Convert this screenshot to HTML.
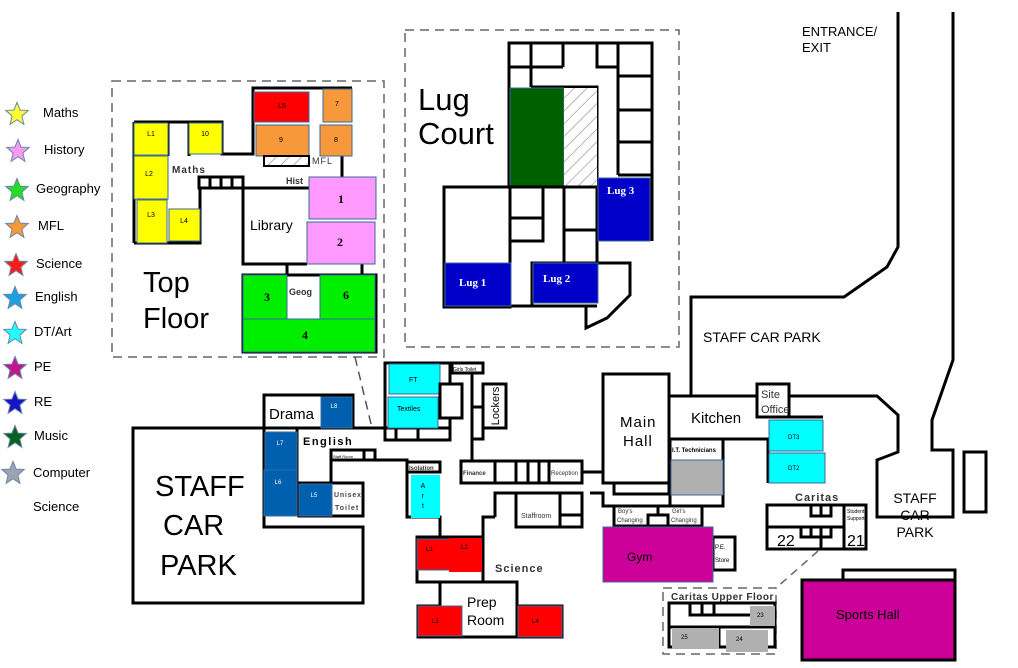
<!DOCTYPE html>
<html><head><meta charset="utf-8"><style>
html,body{margin:0;padding:0;background:#fff;}
svg{display:block;font-family:"Liberation Sans",sans-serif;}
.w{fill:#fff;stroke:#000;stroke-width:3;}
.n{fill:none;stroke:#000;stroke-width:3;}
.c{stroke:#3a6a9a;stroke-width:1;}
.d{fill:none;stroke:#666;stroke-width:1.5;stroke-dasharray:9,6;}
.s{font-size:7px;text-anchor:middle;}
.b{font-weight:bold;}
</style></head><body>
<svg width="1018" height="668" viewBox="0 0 1018 668">
<defs>
<pattern id="h" width="9" height="9" patternUnits="userSpaceOnUse" patternTransform="rotate(45)"><rect width="9" height="9" fill="#fff"/><line x1="0" y1="0" x2="0" y2="9" stroke="#888" stroke-width="1.2"/></pattern>
<polygon id="st" points="0,-11.5 3.1,-3.9 11.2,-3.6 4.9,2.1 6.9,10.4 0,5.7 -6.9,10.4 -4.9,2.1 -11.2,-3.6 -3.1,-3.9" stroke="#6b86a8" stroke-width="1"/>
</defs>

<!-- Legend -->
<g font-size="13">
<use href="#st" x="17" y="114" fill="#ffff33"/><text x="43" y="117">Maths</text>
<use href="#st" x="18" y="151" fill="#f59cf0"/><text x="44" y="154">History</text>
<use href="#st" x="17" y="190" fill="#22dd22"/><text x="36" y="193">Geography</text>
<use href="#st" x="17" y="227" fill="#f7983a"/><text x="38" y="230">MFL</text>
<use href="#st" x="16" y="265" fill="#ff1a1a"/><text x="36" y="268">Science</text>
<use href="#st" x="15" y="298" fill="#1ea0e0"/><text x="35" y="301">English</text>
<use href="#st" x="15" y="333" fill="#22ffff"/><text x="34" y="336">DT/Art</text>
<use href="#st" x="15" y="368" fill="#c0178f"/><text x="34" y="371">PE</text>
<use href="#st" x="15" y="403" fill="#1515c8"/><text x="34" y="406">RE</text>
<use href="#st" x="15" y="437" fill="#0a6020"/><text x="34" y="440">Music</text>
<use href="#st" x="13" y="473" fill="#9aa5b0"/><text x="33" y="477">Computer</text>
<text x="33" y="511">Science</text>
</g>

<!-- Top floor -->
<rect class="d" x="112" y="81" width="272" height="276"/>
<polyline class="n" points="134,122 222,122 222,154 253,154 253,88 352,88"/>
<line class="n" x1="168" y1="122" x2="168" y2="156"/>
<line class="n" x1="189" y1="122" x2="189" y2="156"/>
<line class="n" x1="134" y1="122" x2="134" y2="243"/>
<polyline class="n" points="134,243 200,243 200,188 243,188 243,264 307,264"/>
<rect class="w" x="199" y="177" width="44" height="11"/>
<line class="n" x1="210" y1="177" x2="210" y2="188"/><line class="n" x1="221" y1="177" x2="221" y2="188"/><line class="n" x1="232" y1="177" x2="232" y2="188"/>
<line class="n" x1="243" y1="188" x2="309" y2="188"/>
<line class="n" x1="342" y1="156" x2="342" y2="177"/>
<line class="n" x1="287" y1="264" x2="287" y2="276"/><line class="n" x1="362" y1="264" x2="362" y2="276"/>
<rect class="c" x="134" y="123" width="34" height="32" fill="#ffff00"/>
<rect class="c" x="189" y="123" width="33" height="31" fill="#ffff00"/>
<rect class="c" x="134" y="156" width="34" height="43" fill="#ffff00"/>
<rect class="c" x="137" y="200" width="30" height="43" fill="#ffff00"/>
<rect class="c" x="169" y="209" width="31" height="32" fill="#ffff00"/>
<rect class="c" x="254" y="92" width="55" height="30" fill="#ff0000"/>
<rect class="c" x="256" y="125" width="53" height="31" fill="#f7983a"/>
<rect class="c" x="323" y="89" width="29" height="33" fill="#f7983a"/>
<rect class="c" x="320" y="125" width="32" height="31" fill="#f7983a"/>
<rect x="264" y="156" width="45" height="10" fill="url(#h)" stroke="#000" stroke-width="2"/>
<rect class="c" x="309" y="177" width="67" height="42" fill="#ff99ff"/>
<rect class="c" x="307" y="222" width="68" height="42" fill="#ff99ff"/>
<rect x="243" y="275" width="133" height="77" fill="none" stroke="#000" stroke-width="3"/>
<rect class="c" x="243" y="275" width="44" height="44" fill="#00ee00"/>
<rect class="c" x="320" y="275" width="55" height="44" fill="#00ee00"/>
<rect class="c" x="243" y="319" width="132" height="33" fill="#00ee00"/>
<g class="s"><text x="151" y="136">L1</text><text x="205" y="136">10</text><text x="149" y="176">L2</text><text x="151" y="217">L3</text><text x="184" y="223">L4</text><text x="282" y="108">L5</text><text x="281" y="142">9</text><text x="337" y="106">7</text><text x="336" y="142">8</text></g>
<g font-family="Liberation Serif,serif" font-weight="bold" font-size="12" text-anchor="middle"><text x="341" y="203">1</text><text x="340" y="246">2</text><text x="267" y="301">3</text><text x="346" y="299">6</text><text x="305" y="339">4</text></g>
<text x="172" y="173" font-size="10" class="b" letter-spacing="1" fill="#333">Maths</text>
<text x="312" y="164" font-size="9" letter-spacing="1" fill="#333">MFL</text>
<text x="286" y="184" font-size="9" class="b" fill="#333">Hist</text>
<text x="250" y="230" font-size="14">Library</text>
<text x="289" y="295" font-size="9" class="b" fill="#333">Geog</text>
<text x="143" y="292" font-size="29">Top</text>
<text x="143" y="328" font-size="29">Floor</text>

<!-- Lug court -->
<rect class="d" x="405" y="30" width="274" height="317"/>
<polyline class="n" points="509,187 509,43 652,43 652,241"/>
<line class="n" x1="531" y1="43" x2="531" y2="87"/><line class="n" x1="509" y1="67" x2="563" y2="67"/><line class="n" x1="563" y1="43" x2="563" y2="67"/>
<polyline class="n" points="531,87 597,87 597,187"/>
<polyline class="n" points="597,43 597,67 618,67"/><line class="n" x1="618" y1="43" x2="618" y2="175"/>
<line class="n" x1="618" y1="76" x2="652" y2="76"/><line class="n" x1="618" y1="110" x2="652" y2="110"/><line class="n" x1="618" y1="142" x2="652" y2="142"/><line class="n" x1="618" y1="175" x2="652" y2="175"/>
<rect class="c" x="510" y="88" width="54" height="99" fill="#006000"/>
<rect x="564" y="88" width="33" height="98" fill="url(#h)"/>
<rect class="w" x="444" y="187" width="66" height="120"/>
<polyline class="n" points="510,187 597,187"/>
<rect class="w" x="510" y="187" width="33" height="54"/><line class="n" x1="510" y1="218" x2="543" y2="218"/>
<rect class="w" x="564" y="187" width="33" height="76"/><line class="n" x1="564" y1="230" x2="597" y2="230"/>
<line class="n" x1="444" y1="306" x2="597" y2="306"/>
<polyline class="n" points="532,306 532,263 630,263 630,295 607,318 586,328 586,306"/>
<rect class="c" x="445" y="263" width="66" height="43" fill="#0000c8"/>
<rect class="c" x="533" y="263" width="65" height="40" fill="#0000c8"/>
<rect class="c" x="598" y="178" width="52" height="63" fill="#0000c8"/>
<g fill="#fff" font-family="Liberation Serif,serif" font-weight="bold" font-size="11"><text x="459" y="286">Lug 1</text><text x="543" y="282">Lug 2</text><text x="607" y="194">Lug 3</text></g>
<text x="418" y="110" font-size="31">Lug</text>
<text x="418" y="144" font-size="31">Court</text>

<!-- Roads right -->
<polyline class="n" points="898,12 898,247 887,267 844,297 691,297 691,396"/>
<polyline class="n" points="789,396 877,396 898,415 898,452 877,460 877,517 953,517 953,450 932,450 932,420 953,360 953,12"/>
<rect class="w" x="964" y="452" width="22" height="60"/>
<text x="802" y="36" font-size="13">ENTRANCE/</text><text x="802" y="52" font-size="13">EXIT</text>
<text x="703" y="342" font-size="14">STAFF CAR PARK</text>
<g font-size="14" text-anchor="middle"><text x="915" y="503">STAFF</text><text x="915" y="520">CAR</text><text x="915" y="537">PARK</text></g>

<!-- Main hall/kitchen -->
<rect class="w" x="603" y="374" width="66" height="109"/>
<rect class="w" x="614" y="483" width="55" height="11"/>
<polyline class="n" points="669,396 757,396"/><polyline class="n" points="669,439 768,439 768,483"/>
<rect class="w" x="757" y="384" width="32" height="33"/>
<polyline class="n" points="768,417 823,417"/>
<rect class="c" x="769" y="420" width="54" height="31" fill="#00ffff"/>
<rect class="c" x="769" y="453" width="56" height="30" fill="#00ffff"/>
<rect class="w" x="670" y="439" width="53" height="67"/>
<rect class="c" x="671" y="460" width="52" height="35" fill="#b0b0b0"/>
<polyline class="n" points="582,472 603,472"/>
<polyline class="n" points="590,493 603,493 603,506 723,506"/>
<rect class="w" x="614" y="506" width="44" height="20"/><rect class="w" x="658" y="506" width="44" height="20"/>
<rect class="w" x="648" y="515" width="20" height="11"/>
<rect class="w" x="713" y="537" width="22" height="33"/>
<rect class="c" x="603" y="527" width="110" height="55" fill="#cc0099" stroke="#000" stroke-width="2"/>
<text x="620" y="427" font-size="15" letter-spacing="1">Main</text><text x="623" y="446" font-size="15" letter-spacing="1">Hall</text>
<text x="691" y="423" font-size="15">Kitchen</text>
<text x="761" y="398" font-size="11" fill="#333">Site</text><text x="761" y="413" font-size="11" fill="#333">Office</text>
<text x="672" y="452" font-size="6" class="b">I.T. Technicians</text>
<text x="788" y="439" font-size="6">DT3</text><text x="788" y="470" font-size="6">DT2</text>
<text x="618" y="513" font-size="6" fill="#333">Boy's</text><text x="617" y="522" font-size="6" fill="#333">Changing</text>
<text x="672" y="513" font-size="6" fill="#333">Girl's</text><text x="671" y="522" font-size="6" fill="#333">Changing</text>
<text x="715" y="549" font-size="6">P.E.</text><text x="715" y="562" font-size="6">Store</text>
<text x="627" y="561" font-size="12">Gym</text>

<!-- Caritas -->
<rect class="w" x="767" y="505" width="99" height="44"/>
<line class="n" x1="767" y1="527" x2="844" y2="527"/><line class="n" x1="844" y1="505" x2="844" y2="549"/>
<rect class="w" x="811" y="505" width="20" height="11"/><line class="n" x1="821" y1="505" x2="821" y2="516"/>
<rect class="w" x="801" y="527" width="30" height="10"/><line class="n" x1="811" y1="527" x2="811" y2="537"/><line class="n" x1="821" y1="527" x2="821" y2="549"/>
<text x="795" y="501" font-size="11" class="b" letter-spacing="1" fill="#333">Caritas</text>
<text x="777" y="546" font-size="16">22</text><text x="847" y="546" font-size="16">21</text>
<text x="847" y="513" font-size="5">Student</text><text x="847" y="520" font-size="5">Support</text>
<line x1="818" y1="551" x2="776" y2="588" stroke="#666" stroke-width="1.5" stroke-dasharray="8,6"/>
<rect class="d" x="663" y="588" width="113" height="66"/>
<text x="671" y="600" font-size="10" class="b" fill="#333" letter-spacing="0.5">Caritas Upper Floor</text>
<rect class="w" x="669" y="603" width="106" height="44"/>
<polyline class="n" points="690,603 690,615 750,615"/><line class="n" x1="702" y1="603" x2="702" y2="615"/><line class="n" x1="714" y1="603" x2="714" y2="615"/><line class="n" x1="669" y1="627" x2="775" y2="627"/><line class="n" x1="719" y1="627" x2="719" y2="647"/>
<rect x="750" y="606" width="25" height="20" fill="#b0b0b0"/>
<rect x="672" y="628" width="47" height="21" fill="#b0b0b0"/>
<rect x="726" y="630" width="42" height="22" fill="#b0b0b0"/>
<text x="757" y="617" font-size="6">23</text><text x="681" y="639" font-size="6">25</text><text x="736" y="641" font-size="6">24</text>

<!-- Sports hall -->
<rect class="w" x="843" y="570" width="112" height="12"/>
<rect x="802" y="580" width="153" height="80" fill="#cc0099" stroke="#000" stroke-width="3"/>
<text x="836" y="619" font-size="13">Sports Hall</text>

<!-- Left staff car park -->
<polygon class="w" points="133,428 264,428 264,527 363,527 363,603 133,603"/>
<g font-size="29"><text x="155" y="496">STAFF</text><text x="163" y="535">CAR</text><text x="160" y="575">PARK</text></g>

<!-- English / Drama -->
<rect class="w" x="264" y="395" width="89" height="33"/>
<rect class="c" x="321" y="397" width="31" height="31" fill="#0060b0"/>
<text x="269" y="419" font-size="15">Drama</text>
<polyline class="n" points="353,428 385,428"/>
<line class="n" x1="264" y1="428" x2="264" y2="517"/>
<line class="n" x1="297" y1="428" x2="297" y2="483"/>
<rect class="c" x="265" y="432" width="32" height="38" fill="#0060b0"/>
<rect class="c" x="264" y="470" width="33" height="46" fill="#0060b0"/>
<rect class="w" x="299" y="483" width="64" height="33"/>
<rect class="c" x="299" y="484" width="33" height="32" fill="#0060b0"/>
<rect class="w" x="331" y="450" width="44" height="10"/><line class="n" x1="364" y1="450" x2="364" y2="460"/>
<polyline class="n" points="331,460 331,483"/>
<polyline class="n" points="375,460 407,460 407,517 440,517 440,537"/>
<rect class="w" x="407" y="462" width="33" height="10"/>
<rect x="411" y="475" width="29" height="43" fill="#00ffff"/>
<g font-size="6" fill="#fff" text-anchor="middle"><text x="334" y="408">L8</text><text x="280" y="445">L7</text><text x="278" y="484">L6</text><text x="314" y="497">L5</text></g>
<text x="303" y="445" font-size="11" class="b" letter-spacing="1.5">English</text>
<text x="334" y="497" font-size="7" class="b" letter-spacing="0.8" fill="#444">Unisex</text>
<text x="335" y="510" font-size="7" class="b" letter-spacing="1" fill="#444">Toilet</text>
<text x="333" y="458" font-size="4">Staff Room</text>
<text x="409" y="470" font-size="6" class="b" fill="#333">Isolation</text>
<g font-size="7" text-anchor="middle"><text x="423" y="488">A</text><text x="423" y="498">r</text><text x="423" y="508">t</text></g>
<line x1="355" y1="357" x2="372" y2="428" stroke="#555" stroke-width="1.5" stroke-dasharray="9,6"/>

<!-- FT block -->
<rect class="w" x="385" y="363" width="65" height="77"/>
<line class="n" x1="385" y1="428" x2="450" y2="428"/><line class="n" x1="396" y1="428" x2="396" y2="440"/><line class="n" x1="418" y1="428" x2="418" y2="440"/>
<rect class="c" x="389" y="364" width="51" height="30" fill="#00ffff"/>
<rect class="c" x="388" y="397" width="50" height="31" fill="#00ffff"/>
<rect class="w" x="440" y="384" width="22" height="34"/>
<rect class="w" x="452" y="363" width="31" height="10"/>
<line class="n" x1="472" y1="373" x2="472" y2="461"/>
<rect class="w" x="483" y="384" width="23" height="44"/>
<rect class="w" x="472" y="407" width="11" height="32"/>
<text x="409" y="382" font-size="7">FT</text><text x="397" y="411" font-size="7">Textiles</text>
<text x="453" y="371" font-size="5">Girls Toilet</text>
<text transform="translate(499,406) rotate(-90)" font-size="11" text-anchor="middle">Lockers</text>

<!-- Finance row / staffroom -->
<rect class="w" x="461" y="461" width="121" height="22"/>
<line class="n" x1="495" y1="461" x2="495" y2="483"/><line class="n" x1="516" y1="461" x2="516" y2="483"/><line class="n" x1="528" y1="461" x2="528" y2="483"/><line class="n" x1="539" y1="461" x2="539" y2="483"/><line class="n" x1="549" y1="461" x2="549" y2="483"/>
<text x="463" y="475" font-size="6" class="b" fill="#333">Finance</text><text x="551" y="475" font-size="6" fill="#333">Reception</text>
<polyline class="n" points="495,517 495,493 516,493 516,506 539,506"/>
<rect class="w" x="516" y="493" width="66" height="34"/>
<line class="n" x1="560" y1="493" x2="560" y2="527"/><line class="n" x1="560" y1="515" x2="582" y2="515"/>
<text x="521" y="518" font-size="7" fill="#333">Staffroom</text>
<polyline class="n" points="495,517 483,517 483,582"/>

<!-- Science -->
<rect class="w" x="417" y="537" width="66" height="45"/>
<rect class="c" x="417" y="539" width="33" height="31" fill="#ff0000"/>
<rect x="449" y="538" width="33" height="34" fill="#ff0000"/>
<rect class="w" x="440" y="582" width="77" height="55"/>
<rect class="w" x="418" y="606" width="22" height="31"/>
<rect class="c" x="418" y="606" width="44" height="30" fill="#ff0000"/>
<rect class="w" x="517" y="606" width="45" height="31"/>
<rect class="c" x="518" y="606" width="44" height="31" fill="#ff0000"/>
<g font-size="6"><text x="426" y="551">L1</text><text x="461" y="549">L2</text><text x="432" y="623">L3</text><text x="532" y="623">L4</text></g>
<text x="495" y="572" font-size="11" class="b" letter-spacing="1" fill="#333">Science</text>
<text x="467" y="607" font-size="14">Prep</text><text x="467" y="625" font-size="14">Room</text>
</svg>
</body></html>
